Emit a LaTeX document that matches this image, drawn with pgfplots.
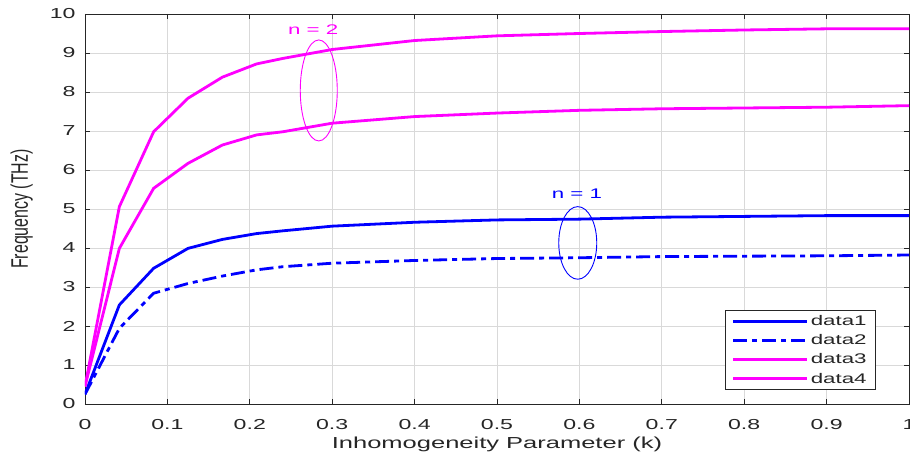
\documentclass[border=0pt]{standalone}
\usepackage{fontspec}
\setmainfont{Liberation Sans}
\usepackage{graphicx}
\usepackage{pgfplots}
\pgfplotsset{compat=1.18}

% the reference is stretched sideways, so text is too
\newcommand{\sx}[1]{\scalebox{1.6}[1]{#1}}
\definecolor{mblue}{RGB}{0,0,255}
\definecolor{mmag}{RGB}{255,0,255}
\definecolor{axgray}{RGB}{38,38,38}

\pgfplotstableread{
k      d1    d2    d3    d4
0      0.25  0.25  0.45  0.45
0.0417 2.54  1.94  3.99  5.06
0.0833 3.48  2.84  5.53  6.98
0.125  3.99  3.09  6.17  7.84
0.1667 4.22  3.28  6.64  8.38
0.2083 4.37  3.44  6.90  8.72
0.24   4.44  3.52  6.98  8.86
0.3    4.56  3.61  7.20  9.09
0.4    4.66  3.68  7.37  9.32
0.5    4.72  3.73  7.46  9.44
0.6    4.74  3.75  7.53  9.50
0.7    4.79  3.78  7.57  9.55
0.8    4.81  3.79  7.59  9.59
0.9    4.83  3.80  7.61  9.62
1.0    4.83  3.82  7.65  9.62
}\curves

\begin{document}
\begin{tikzpicture}
\begin{axis}[
    width=824bp, height=390bp, scale only axis,
    xmin=0, xmax=1, ymin=0, ymax=10,
    xtick={0,0.1,0.2,0.3,0.4,0.5,0.6,0.7,0.8,0.9,1},
    xticklabels={\sx{0},\sx{0.1},\sx{0.2},\sx{0.3},\sx{0.4},\sx{0.5},\sx{0.6},\sx{0.7},\sx{0.8},\sx{0.9},\sx{1}},
    ytick={0,1,2,3,4,5,6,7,8,9,10},
    yticklabels={\sx{0},\sx{1},\sx{2},\sx{3},\sx{4},\sx{5},\sx{6},\sx{7},\sx{8},\sx{9},\sx{10}},
    grid=major,
    major grid style={black!15, line width=0.7bp},
    axis line style={axgray, line width=0.8bp},
    tick style={axgray, line width=0.8bp},
    tick align=inside, major tick length=5bp,
    ticklabel style={font=\fontsize{14.5}{16}\selectfont, text=axgray},
    xticklabel style={yshift=-12bp},
    yticklabel style={xshift=-6bp},
    xlabel={\sx{Inhomogeneity Parameter (k)}},
    ylabel={\scalebox{1}[1.5]{Frequency (THz)}},
    xlabel shift=0bp,
    ylabel shift=10bp,
    label style={font=\fontsize{16}{18}\selectfont, text=axgray},
    legend cell align=left,
    legend style={at={(0.96,0.036)}, anchor=south east, draw=axgray,
        line width=0.8bp, font=\fontsize{14}{16}\selectfont, text=axgray,
        row sep=3.5bp, inner xsep=7bp, inner ysep=3bp},
    legend image code/.code={\draw[#1] (0bp,0bp) -- (74bp,0bp);},
]
\coordinate (ll) at (rel axis cs:0,0);
\coordinate (ur) at (rel axis cs:1,1);

\addplot[mblue, line width=2.8bp] table[x=k, y=d1] {\curves};
\addlegendentry{\sx{data1}}
\addplot[mblue, line width=2.8bp, dash pattern=on 14bp off 5bp on 5bp off 5bp] table[x=k, y=d2] {\curves};
\addlegendentry{\sx{data2}}
\addplot[mmag, line width=2.8bp] table[x=k, y=d3] {\curves};
\addlegendentry{\sx{data3}}
\addplot[mmag, line width=2.8bp] table[x=k, y=d4] {\curves};
\addlegendentry{\sx{data4}}

% mode annotations
\node[text=mmag, font=\fontsize{14}{16}\selectfont] at (axis cs:0.277,9.59) {\sx{n = 2}};
\draw[mmag, line width=0.9bp] (axis cs:0.2837,8.04) ellipse [x radius=18.5bp, y radius=50.5bp];
\node[text=mblue, font=\fontsize{14}{16}\selectfont] at (axis cs:0.597,5.38) {\sx{n = 1}};
\draw[mblue, line width=0.9bp] (axis cs:0.598,4.13) ellipse [x radius=19bp, y radius=36.3bp];
\end{axis}
\pgfresetboundingbox
\path[use as bounding box] ([xshift=-85bp,yshift=-51bp]ll) rectangle ([xshift=1bp,yshift=14bp]ur);
\end{tikzpicture}
\end{document}
